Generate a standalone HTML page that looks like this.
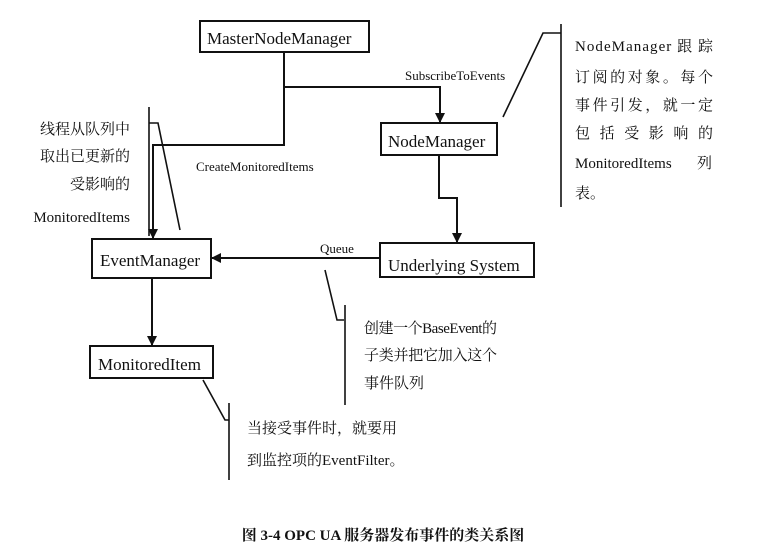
<!DOCTYPE html>
<html><head><meta charset="utf-8"><style>
html,body{margin:0;padding:0;background:#fff;}
svg{display:block;}
text{font-family:"Liberation Serif","Noto Serif CJK SC","Noto Sans CJK SC",serif;fill:#111;}
</style></head><body>
<svg width="764" height="558" viewBox="0 0 764 558" xmlns="http://www.w3.org/2000/svg">
<defs><marker id="a" markerWidth="10" markerHeight="10" refX="9" refY="5" orient="auto" markerUnits="userSpaceOnUse"><path d="M0,0 L10,5 L0,10 z" fill="#111"/></marker></defs>
<g stroke="#111" stroke-width="2" fill="none">
<rect x="200" y="21" width="169" height="31"/>
<rect x="381" y="123" width="116" height="32"/>
<rect x="92" y="239" width="119" height="39"/>
<rect x="380" y="243" width="154" height="34"/>
<rect x="90" y="346" width="123" height="32"/>
<polyline points="284,52 284,145 153,145 153,238" marker-end="url(#a)"/>
<polyline points="284,87 440,87 440,122" marker-end="url(#a)"/>
<polyline points="439,155 439,198 457,198 457,242" marker-end="url(#a)"/>
<line x1="380" y1="258" x2="212" y2="258" marker-end="url(#a)"/>
<line x1="152" y1="278" x2="152" y2="345" marker-end="url(#a)"/>
<g stroke-width="1.6">
<line x1="149" y1="107" x2="149" y2="236"/>
<polyline points="149,123 158,123 180,230"/>
<polyline points="503,117 543,33 561,33"/>
<line x1="561" y1="24" x2="561" y2="207"/>
<polyline points="325,270 337,320 344,320"/>
<line x1="345" y1="305" x2="345" y2="405"/>
<polyline points="203,380 225,420 229,420"/>
<line x1="229" y1="403" x2="229" y2="480"/>
</g>
</g>
<g font-size="17">
<text x="207" y="44">MasterNodeManager</text>
<text x="388" y="147">NodeManager</text>
<text x="100" y="266">EventManager</text>
<text x="388" y="271">Underlying System</text>
<text x="98" y="370">MonitoredItem</text>
</g>
<g font-size="13">
<text x="405" y="80">SubscribeToEvents</text>
<text x="196" y="171">CreateMonitoredItems</text>
<text x="320" y="253">Queue</text>
</g>
<g font-size="15" text-anchor="end">
<text x="130" y="134">线程从队列中</text>
<text x="130" y="161">取出已更新的</text>
<text x="130" y="189">受影响的</text>
<text x="130" y="222">MonitoredItems</text>
</g>
<g font-size="15">
<text x="575" y="51" textLength="138" lengthAdjust="spacing">NodeManager 跟 踪</text>
<text x="575" y="82" textLength="138" lengthAdjust="spacing">订阅的对象。每个</text>
<text x="575" y="110" textLength="138" lengthAdjust="spacing">事件引发，就一定</text>
<text x="575" y="138" textLength="138" lengthAdjust="spacing">包括受影响的</text>
<text x="575" y="168">MonitoredItems</text><text x="697" y="168">列</text>
<text x="575" y="198">表。</text>
<text x="364" y="333" textLength="133" lengthAdjust="spacing">创建一个BaseEvent的</text>
<text x="364" y="360" textLength="133" lengthAdjust="spacing">子类并把它加入这个</text>
<text x="364" y="388">事件队列</text>
<text x="247" y="433">当接受事件时，就要用</text>
<text x="247" y="465">到监控项的EventFilter。</text>
</g>
<text x="383" y="540" font-size="15" font-weight="bold" text-anchor="middle">图 3-4 OPC UA 服务器发布事件的类关系图</text>
</svg>
</body></html>
